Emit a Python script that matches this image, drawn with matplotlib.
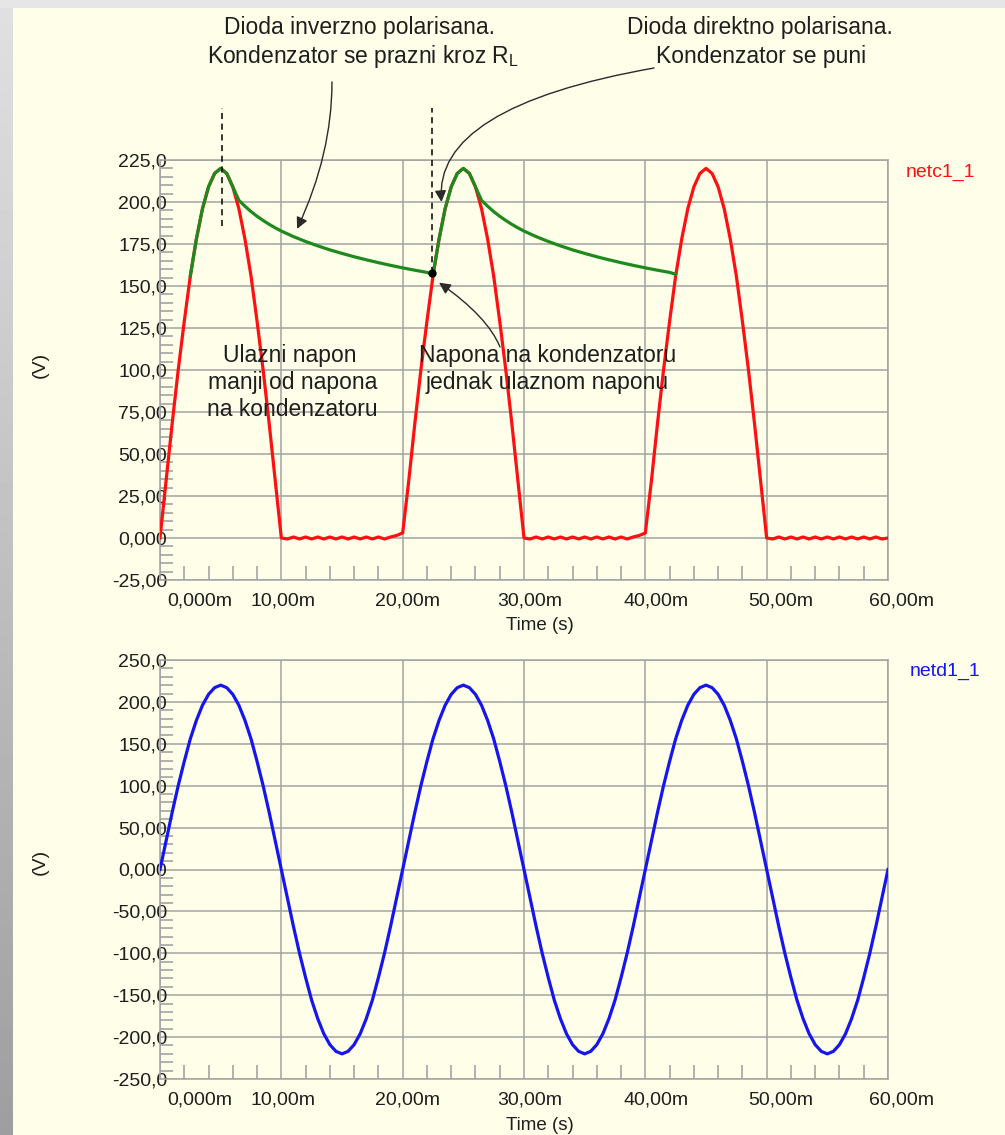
import numpy as np
import matplotlib.pyplot as plt
import matplotlib.transforms as mtransforms
from matplotlib.patches import Rectangle

plt.rcParams['font.family'] = ['Liberation Sans', 'DejaVu Sans']
plt.rcParams['mathtext.fontset'] = 'custom'
plt.rcParams['mathtext.rm'] = 'Liberation Sans'

W, H = 1005, 1135

# sample times in ms (0.5 ms simulator step)
t = np.linspace(0, 60, 121)

# netd1_1 : source voltage
netd = [0, 34, 68, 100, 129, 156, 178, 196, 209, 217, 220, 217, 209, 196, 178, 156, 129, 100, 68, 34,
        0, -34, -68, -100, -129, -156, -178, -196, -209, -217, -220, -217, -209, -196, -178, -156, -129, -100, -68, -34,
        0, 34, 68, 100, 129, 156, 178, 196, 209, 217, 220, 217, 209, 196, 178, 156, 129, 100, 68, 34,
        0, -34, -68, -100, -129, -156, -178, -196, -209, -217, -220, -217, -209, -196, -178, -156, -129, -100, -68, -34,
        0, 34, 68, 100, 129, 156, 178, 196, 209, 217, 220, 217, 209, 196, 178, 156, 129, 100, 68, 34,
        0, -34, -68, -100, -129, -156, -178, -196, -209, -217, -220, -217, -209, -196, -178, -156, -129, -100, -68, -34,
        0]

# netc1_1 : rectified voltage (small ripple while the diode blocks)
netc = [0, 34, 68, 100, 129, 156, 178, 196, 209, 217, 220, 217, 209, 196, 178, 156, 129, 100, 68, 34,
        0, -0.6, 0.6, -0.6, 0.6, -0.6, 0.6, -0.6, 0.6, -0.6, 0.6, -0.6, 0.6, -0.6, 0.6, -0.6, 0.6, -0.6, 0.6, 1.5,
        3, 34, 68, 100, 129, 156, 178, 196, 209, 217, 220, 217, 209, 196, 178, 156, 129, 100, 68, 34,
        0, -0.6, 0.6, -0.6, 0.6, -0.6, 0.6, -0.6, 0.6, -0.6, 0.6, -0.6, 0.6, -0.6, 0.6, -0.6, 0.6, -0.6, 0.6, 1.5,
        3, 34, 68, 100, 129, 156, 178, 196, 209, 217, 220, 217, 209, 196, 178, 156, 129, 100, 68, 34,
        0, -0.6, 0.6, -0.6, 0.6, -0.6, 0.6, -0.6, 0.6, -0.6, 0.6, -0.6, 0.6, -0.6, 0.6, -0.6, 0.6, -0.6, 0.6, -0.6,
        0]

# capacitor voltage (charge / discharge through R_L)
cap_t = [2.5, 3, 3.5, 4, 4.5, 5, 5.5, 6, 6.5, 7, 7.5, 8, 8.5, 9, 9.5, 10, 11, 12, 13, 14, 15, 16, 17, 18, 19, 20, 21, 22,
         22.5, 23, 23.5, 24, 24.5, 25, 25.5, 26, 26.5, 27, 27.5, 28, 28.5, 29, 29.5, 30, 31, 32, 33, 34, 35, 36, 37, 38,
         39, 40, 41, 42, 42.5]
cap_v = [156, 178, 196, 209, 217, 220, 217, 209, 201, 197.5, 194.3, 191.5, 189, 186.7, 184.6, 182.7, 179.4, 176.5,
         173.9, 171.5, 169.4, 167.4, 165.6, 163.9, 162.3, 160.8, 159.4, 158.1,
         157, 178, 196, 209, 217, 220, 217, 209, 201, 197.5, 194.3, 191.5, 189, 186.7, 184.6, 182.7, 179.4, 176.5,
         173.9, 171.5, 169.4, 167.4, 165.6, 163.9, 162.3, 160.8, 159.4, 158.1, 157]

# dashed markers: peak of charging and start of charging
guide_t = [5.1, 22.4]
guide_lo = [186, 158]
guide_hi = 256
meet_t, meet_v = 22.4, 158

x_major = [0, 10, 20, 30, 40, 50, 60]
x_labels = ['0,000m', '10,00m', '20,00m', '30,00m', '40,00m', '50,00m', '60,00m']
x_minor = [2, 4, 6, 8, 12, 14, 16, 18, 22, 24, 26, 28, 32, 34, 36, 38, 42, 44, 46, 48, 52, 54, 56, 58]

y1_major = [-25, 0, 25, 50, 75, 100, 125, 150, 175, 200, 225]
y1_labels = ['-25,00', '0,000', '25,00', '50,00', '75,00', '100,0', '125,0', '150,0', '175,0', '200,0', '225,0']
y2_major = [-250, -200, -150, -100, -50, 0, 50, 100, 150, 200, 250]
y2_labels = ['-250,0', '-200,0', '-150,0', '-100,0', '-50,00', '0,000', '50,00', '100,0', '150,0', '200,0', '250,0']

BG = '#FEFEE9'
GRID = '#A3A3A3'
TXT = '#1E1E1E'
RED = '#FF1010'
GREEN = '#1E8A1E'
BLUE = '#1515F0'

fig = plt.figure(figsize=(W / 100, H / 100), dpi=100, facecolor=BG)

# grey window frame on the top and left edge
fig.patches.append(Rectangle((0, 1 - 8 / H), 1, 8 / H, transform=fig.transFigure,
                             facecolor='#E6E6E6', edgecolor='none', zorder=0))
edge = fig.add_axes([0, 0, 13 / W, 1])
edge.imshow(np.linspace(0.88, 0.62, 200).reshape(-1, 1), cmap='gray', vmin=0, vmax=1,
            aspect='auto', extent=[0, 1, 0, 1])
edge.axis('off')


def px(x, y):
    return x / W, 1 - y / H


def style(ax, yticks, ylabels, yminor):
    ax.set_facecolor('none')
    ax.set_xlim(0, 60)
    ax.set_ylim(yticks[0], yticks[-1])
    ax.set_xticks(x_major)
    ax.set_xticklabels(x_labels)
    ax.set_xticks(x_minor, minor=True)
    ax.set_yticks(yticks)
    ax.set_yticklabels(ylabels)
    ax.set_yticks(yminor, minor=True)
    ax.set_axisbelow(True)
    ax.grid(True, which='major', color=GRID, lw=1.1)
    for s in ax.spines.values():
        s.set_color(GRID)
        s.set_linewidth(1.1)
    ax.tick_params(which='major', length=0, labelsize=14, labelcolor=TXT)
    ax.tick_params(axis='x', which='major', pad=9)
    ax.tick_params(axis='y', which='major', pad=-5)
    ax.tick_params(which='minor', direction='in', length=9, width=1.2, color=GRID)
    ax.tick_params(axis='x', which='minor', length=10, bottom=True, top=False)
    offs = [40, 2, 5, 6, 11, 14, 13]
    for lab, dx in zip(ax.get_xticklabels(), offs):
        lab.set_transform(lab.get_transform() +
                          mtransforms.ScaledTranslation(dx / 100, 0, fig.dpi_scale_trans))


# top panel: rectified voltage and capacitor voltage
ax1 = fig.add_axes([160 / W, 1 - 580 / H, 728 / W, 420 / H])
style(ax1, y1_major, y1_labels, [v for v in range(-20, 225, 5) if v % 25])
ax1.plot(t, netc, color=RED, lw=2.3, zorder=3)
ax1.plot(cap_t, cap_v, color=GREEN, lw=2.3, zorder=4)
for gt, lo in zip(guide_t, guide_lo):
    ax1.plot([gt, gt], [lo, guide_hi], color='black', lw=1.1, dashes=(4, 3), clip_on=False, zorder=5)
ax1.plot([meet_t], [meet_v], 'o', color='black', ms=5, zorder=6)

# bottom panel: source voltage
ax2 = fig.add_axes([160 / W, 1 - 1079 / H, 728 / W, 419 / H])
style(ax2, y2_major, y2_labels, [v for v in range(-240, 250, 10) if v % 50])
ax2.plot(t, netd, color=BLUE, lw=2.3, zorder=3)

for yc, yb in [(365, 630), (862, 1130)]:
    fig.text(*px(40, yc), '(V)', rotation=90, ha='center', va='center', fontsize=14, color=TXT)
    fig.text(*px(540, yb), 'Time (s)', ha='center', va='baseline', fontsize=13.5, color=TXT)

fig.text(*px(940, 177), 'netc1_1', ha='center', va='baseline', fontsize=14, color=RED)
fig.text(*px(945, 676), 'netd1_1', ha='center', va='baseline', fontsize=14, color=BLUE)

# explanatory notes
FS = 16.5
notes = [
    (360, 34, 'Dioda inverzno polarisana.'),
    (363, 63, r'Kondenzator se prazni kroz R$_\mathrm{L}$'),
    (760, 34, 'Dioda direktno polarisana.'),
    (761, 63, 'Kondenzator se puni'),
    (290, 362, 'Ulazni napon'),
    (293, 389, 'manji od napona'),
    (292, 416, 'na kondenzatoru'),
    (548, 362, 'Napona na kondenzatoru'),
    (547, 389, 'jednak ulaznom naponu'),
]
for x, y, s in notes:
    fig.text(*px(x, y), s, ha='center', va='baseline', fontsize=FS, color=TXT)

arrow = dict(arrowstyle='-|>', color='#2A2A2A', lw=1.0, mutation_scale=17, shrinkA=0, shrinkB=0)
ax1.annotate('', xy=(11.3, 184), xytext=(332, H - 82), textcoords='figure pixels',
             arrowprops=dict(arrow, connectionstyle='angle3,angleA=90,angleB=65'))
ax1.annotate('', xy=(23.2, 200), xytext=(654, H - 68), textcoords='figure pixels',
             arrowprops=dict(arrow, connectionstyle='angle3,angleA=10,angleB=95'))
ax1.annotate('', xy=(23.0, 152), xytext=(500, H - 347), textcoords='figure pixels',
             arrowprops=dict(arrow, connectionstyle='angle3,angleA=112,angleB=145'))

fig.savefig('out.png', dpi=100, facecolor=BG)
